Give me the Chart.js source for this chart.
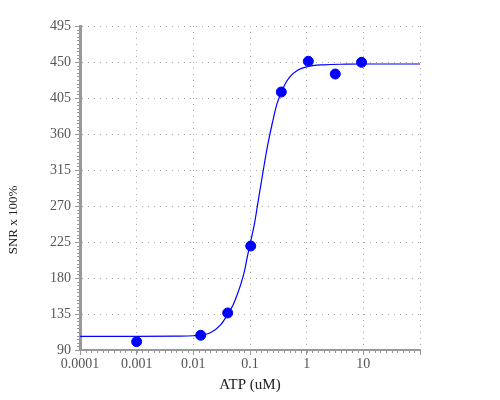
<!DOCTYPE html>
<html>
<head>
<meta charset="utf-8">
<script src="https://cdn.jsdelivr.net/npm/chart.js@4/dist/chart.umd.min.js"></script>
<style>
  body { margin: 0; background: #fff; }
  canvas { display: block; }
</style>
</head>
<body>
<canvas id="chart" width="500" height="400"></canvas>
<script>
// measured points (ATP in uM)
const atpX = [0.001, 0.0135, 0.0404, 0.103, 0.357, 1.07, 3.2, 9.3];
const snrY = [100.4, 108.4, 136.3, 220, 412.5, 450.9, 435, 449.6];

// fitted curve
const fitX = [0.0001, 0.001, 0.005, 0.01, 0.015, 0.02, 0.03, 0.04, 0.05, 0.06, 0.07, 0.08, 0.09, 0.1,
  0.12, 0.14, 0.17, 0.2, 0.25, 0.3, 0.4, 0.5, 0.7, 1, 2, 5, 10, 100];
const fitY = [107, 107, 107.3, 107.8, 109, 111.5, 121, 134, 146, 160, 174, 189, 207, 222,
  248, 277, 313, 342, 375, 398, 420, 431, 440, 444, 446.5, 447.3, 447.5, 447.5];

const xTicks = [0.0001, 0.001, 0.01, 0.1, 1, 10, 100];
const xTickLabels = ['0.0001', '0.001', '0.01', '0.1', '1', '10', ''];
const yMin = 90, yMax = 495, yStep = 45;

const AXIS = '#999';
const GRID = '#aaa';
const TICK_TEXT = '#555';
const SERIF = '"Liberation Serif", "Times New Roman", serif';

// small minor ticks along both axes + axis titles
const extrasPlugin = {
  id: 'extras',
  afterDraw(chart) {
    const { ctx, chartArea: a, scales } = chart;
    ctx.save();
    ctx.strokeStyle = AXIS;
    ctx.lineWidth = 1;
    ctx.beginPath();
    for (let v = yMin; v <= yMax; v += yStep / 10) {
      const y = Math.round(scales.y.getPixelForValue(v)) + 0.5;
      ctx.moveTo(a.left - 3, y);
      ctx.lineTo(a.left, y);
    }
    for (let k = -40; k <= 20; k++) {
      const x = Math.round(scales.x.getPixelForValue(Math.pow(10, k / 10))) + 0.5;
      ctx.moveTo(x, a.bottom);
      ctx.lineTo(x, a.bottom + 3);
    }
    ctx.stroke();

    ctx.fillStyle = '#222';
    ctx.textAlign = 'center';
    ctx.textBaseline = 'middle';
    ctx.font = '15px ' + SERIF;
    ctx.fillText('ATP (uM)', (a.left + a.right) / 2, 385);
    ctx.translate(14, 220);
    ctx.rotate(-Math.PI / 2);
    ctx.font = '13px ' + SERIF;
    ctx.fillText('SNR x 100%', 0, 0);
    ctx.restore();
  },
};

new Chart(document.getElementById('chart'), {
  type: 'scatter',
  data: {
    datasets: [
      {
        label: 'fit',
        data: fitX.map((x, i) => ({ x, y: fitY[i] })),
        showLine: true,
        borderColor: '#0000ff',
        borderWidth: 1.2,
        pointRadius: 0,
        cubicInterpolationMode: 'monotone',
        order: 2,
      },
      {
        label: 'data',
        data: atpX.map((x, i) => ({ x, y: snrY[i] })),
        backgroundColor: '#0000ff',
        borderColor: '#0000ff',
        pointRadius: 5,
        order: 1,
      },
    ],
  },
  options: {
    responsive: false,
    animation: false,
    layout: { padding: { top: 26, right: 80, left: 0, bottom: 0 } },
    plugins: { legend: { display: false }, tooltip: { enabled: false } },
    scales: {
      x: {
        type: 'logarithmic',
        min: 0.0001,
        max: 100,
        afterBuildTicks(scale) {
          scale.ticks = xTicks.map((v) => ({ value: v }));
        },
        afterFit(scale) { scale.height = 50; },
        ticks: {
          autoSkip: false,
          maxRotation: 0,
          padding: 1,
          color: TICK_TEXT,
          font: { family: SERIF, size: 14 },
          callback(value) {
            const i = xTicks.findIndex((t) => Math.abs(t - value) / t < 1e-6);
            return i >= 0 ? xTickLabels[i] : '';
          },
        },
        grid: {
          color: GRID,
          lineWidth: 1,
          tickLength: 5,
          tickColor: AXIS,
          tickBorderDash: [],
        },
        // in v4 border.dash styles the grid lines
        border: { display: true, color: AXIS, width: 2, dash: [1, 5] },
      },
      y: {
        min: yMin,
        max: yMax,
        afterFit(scale) { scale.width = 80; },
        ticks: {
          stepSize: yStep,
          padding: 4,
          color: TICK_TEXT,
          font: { family: SERIF, size: 14 },
        },
        grid: {
          color: GRID,
          lineWidth: 1,
          tickLength: 5,
          tickColor: AXIS,
          tickBorderDash: [],
        },
        border: { display: true, color: AXIS, width: 3, dash: [1, 5] },
      },
    },
  },
  plugins: [extrasPlugin],
});
</script>
</body>
</html>
